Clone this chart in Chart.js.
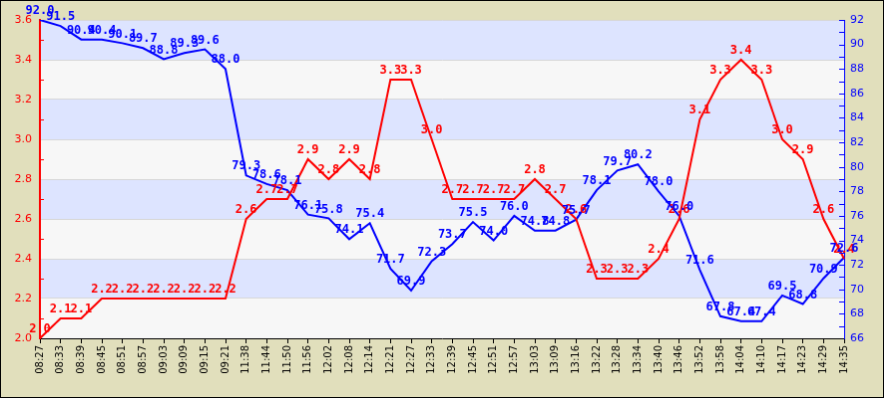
<!DOCTYPE html>
<html>
<head>
<meta charset="utf-8">
<script src="https://cdn.jsdelivr.net/npm/chart.js"></script>
<style>
	body { margin: 0; background: #fff; }
	#c { display: block; border: 1px solid #000; }
</style>
</head>
<body>
<canvas id="c" width="884" height="398"></canvas>
<script>
// categories (times)
const times = [
	"08:27", "08:33", "08:39", "08:45", "08:51", "08:57", "09:03", "09:09", "09:15", "09:21",
	"11:38", "11:44", "11:50", "11:56", "12:02", "12:08", "12:14", "12:21", "12:27", "12:33",
	"12:39", "12:45", "12:51", "12:57", "13:03", "13:09", "13:16", "13:22", "13:28", "13:34",
	"13:40", "13:46", "13:52", "13:58", "14:04", "14:10", "14:17", "14:23", "14:29", "14:35",
];

// red series, left axis
const redValues = [
	2.0, 2.1, 2.1, 2.2, 2.2, 2.2, 2.2, 2.2, 2.2, 2.2,
	2.6, 2.7, 2.7, 2.9, 2.8, 2.9, 2.8, 3.3, 3.3, 3.0,
	2.7, 2.7, 2.7, 2.7, 2.8, 2.7, 2.6, 2.3, 2.3, 2.3,
	2.4, 2.6, 3.1, 3.3, 3.4, 3.3, 3.0, 2.9, 2.6, 2.4,
];

// blue series, right axis
const blueValues = [
	92.0, 91.5, 90.4, 90.4, 90.1, 89.7, 88.8, 89.3, 89.6, 88.0,
	79.3, 78.6, 78.1, 76.1, 75.8, 74.1, 75.4, 71.7, 69.9, 72.3,
	73.7, 75.5, 74.0, 76.0, 74.8, 74.8, 75.7, 78.1, 79.7, 80.2,
	78.0, 76.0, 71.6, 67.8, 67.4, 67.4, 69.5, 68.8, 70.9, 72.6,
];

const leftMin = 2.0, leftMax = 3.6;
const rightMin = 66, rightMax = 92;

const RED = "#ff0000";
const BLUE = "#0000ff";

// background, bands and inside tick marks
const decor = {
	id: "decor",
	beforeDraw(chart) {
		const ctx = chart.ctx;
		const area = chart.chartArea;
		const yl = chart.scales.y;
		ctx.save();
		ctx.fillStyle = "#e1dfbc";
		ctx.fillRect(0, 0, chart.width, chart.height);
		for (let k = 0; k < 8; k++) {
			const v0 = leftMax - k * 0.2;
			const y0 = yl.getPixelForValue(v0);
			const y1 = yl.getPixelForValue(v0 - 0.2);
			ctx.fillStyle = k % 2 === 0 ? "#dde4ff" : "#f7f7f7";
			ctx.fillRect(area.left, y0, area.right - area.left, y1 - y0);
		}
		ctx.restore();
	},
	afterDraw(chart) {
		const ctx = chart.ctx;
		const yl = chart.scales.y;
		const yr = chart.scales.y2;
		ctx.save();
		ctx.lineWidth = 1;
		ctx.strokeStyle = RED;
		for (let k = 1; k < 16; k += 2) {
			const y = Math.round(yl.getPixelForValue(leftMin + k * 0.1)) + 0.5;
			ctx.beginPath();
			ctx.moveTo(yl.right, y);
			ctx.lineTo(yl.right + 4, y);
			ctx.stroke();
		}
		ctx.strokeStyle = BLUE;
		for (let v = rightMin + 1; v <= rightMax; v++) {
			const y = Math.round(yr.getPixelForValue(v)) + 0.5;
			ctx.beginPath();
			ctx.moveTo(yr.left - 5, y);
			ctx.lineTo(yr.left, y);
			ctx.stroke();
		}
		ctx.restore();
	},
	afterDatasetsDraw(chart) {
		const ctx = chart.ctx;
		ctx.save();
		ctx.font = "bold 12px 'DejaVu Sans Mono'";
		ctx.textAlign = "center";
		ctx.textBaseline = "bottom";
		chart.data.datasets.forEach((ds, i) => {
			const meta = chart.getDatasetMeta(i);
			ctx.fillStyle = ds.borderColor;
			meta.data.forEach((pt, j) => {
				ctx.fillText(ds.data[j].toFixed(1), pt.x, pt.y - 3);
			});
		});
		ctx.restore();
	},
};

const chart = new Chart(document.getElementById("c"), {
	type: "line",
	data: {
		labels: times,
		datasets: [
			{
				data: redValues,
				yAxisID: "y",
				borderColor: RED,
				borderWidth: 2,
				pointRadius: 0,
				tension: 0,
			},
			{
				data: blueValues,
				yAxisID: "y2",
				borderColor: BLUE,
				borderWidth: 2,
				pointRadius: 0,
				tension: 0,
			},
		],
	},
	options: {
		responsive: false,
		animation: false,
		devicePixelRatio: 1,
		layout: { padding: { top: 19, left: 0, right: 0, bottom: 0 } },
		plugins: {
			legend: { display: false },
			tooltip: { enabled: false },
		},
		scales: {
			x: {
				offset: false,
				grid: {
					drawOnChartArea: false,
					drawTicks: true,
					tickLength: 5,
					color: "#000",
				},
				border: { color: "#000", width: 1 },
				ticks: {
					autoSkip: false,
					minRotation: 90,
					maxRotation: 90,
					padding: 2,
					color: "#000",
					font: { family: "'DejaVu Sans'", size: 10 },
				},
				afterFit: (s) => { s.height = 59; },
			},
			y: {
				position: "left",
				min: leftMin,
				max: leftMax,
				grid: {
					drawTicks: false,
					color: (c) => (Math.round(c.tick.value * 10) % 2 === 0 ? "#d8d8d8" : "rgba(0,0,0,0)"),
					lineWidth: 1,
				},
				border: { color: RED, width: 2 },
				ticks: {
					stepSize: 0.1,
					padding: 8,
					color: RED,
					font: { family: "'DejaVu Sans'", size: 11 },
					callback: (v) => (Math.round(v * 10) % 2 === 0 ? Number(v).toFixed(1) : ""),
				},
				afterFit: (s) => { s.width = 39; },
			},
			y2: {
				position: "right",
				min: rightMin,
				max: rightMax,
				grid: { drawOnChartArea: false, drawTicks: false },
				border: { color: BLUE, width: 1 },
				ticks: {
					stepSize: 1,
					padding: 6,
					color: BLUE,
					font: { family: "'DejaVu Sans'", size: 11 },
					callback: (v) => (v % 2 === 0 ? String(v) : ""),
				},
				afterFit: (s) => { s.width = 39; },
			},
		},
	},
	plugins: [decor],
});
</script>
</body>
</html>
